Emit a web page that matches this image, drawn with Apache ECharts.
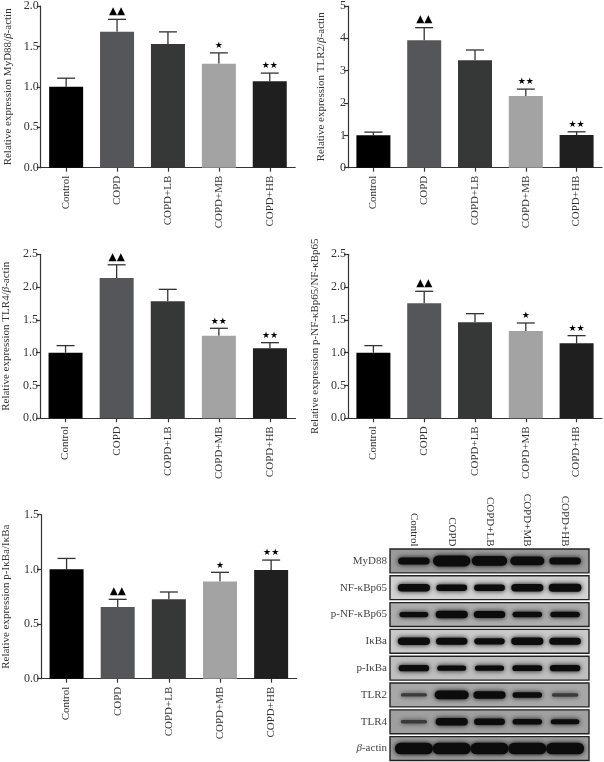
<!DOCTYPE html>
<html><head><meta charset="utf-8">
<style>html,body{margin:0;padding:0;background:#fff}#c{width:604px;height:762px}</style>
<script src="https://cdn.jsdelivr.net/npm/echarts@6/dist/echarts.min.js"></script>
</head><body><div id="c"></div>
<script>
const categories = ['Control','COPD','COPD+LB','COPD+MB','COPD+HB'];

const myd88Values = [1.00,1.68,1.53,1.285,1.07];
const myd88Upper  = [1.107,1.835,1.68,1.42,1.17];
const myd88Marks  = ['','▲▲','','★','★★'];

const tlr2Values = [1.00,3.94,3.32,2.22,1.01];
const tlr2Upper  = [1.10,4.33,3.64,2.43,1.11];
const tlr2Marks  = ['','▲▲','','★★','★★'];

const tlr4Values = [1.00,2.14,1.784,1.26,1.067];
const tlr4Upper  = [1.108,2.34,1.966,1.372,1.153];
const tlr4Marks  = ['','▲▲','','★★','★★'];

const pnfValues = [1.00,1.753,1.463,1.33,1.143];
const pnfUpper  = [1.108,1.936,1.595,1.453,1.26];
const pnfMarks  = ['','▲▲','','★','★★'];

const pikbValues = [1.00,0.655,0.726,0.89,0.994];
const pikbUpper  = [1.10,0.726,0.793,0.973,1.085];
const pikbMarks  = ['','▲▲','','★','★★'];

const blotRows = ['MyD88','NF-κBp65','p-NF-κBp65','IκBa','p-IκBa','TLR2','TLR4','{i|β}-actin'];
const blotMyd88 = [.5,.95,.8,.7,.5];
const blotNf    = [.55,.45,.45,.55,.6];
const blotPnf   = [.3,.55,.5,.35,.35];
const blotIkb   = [.55,.5,.42,.55,.5];
const blotPikb  = [.42,.3,.32,.38,.42];
const blotTlr2  = [.08,.7,.55,.35,.12];
const blotTlr4  = [.1,.55,.45,.35,.28];
const blotActin = [1,1,1,1,1];
const blotSignals = [blotMyd88,blotNf,blotPnf,blotIkb,blotPikb,blotTlr2,blotTlr4,blotActin];
const blotBackground = ['#9a9a9a','#d2d2d2','#adadad','#cacaca','#bfbfbf','#a8a8a8','#a0a0a0','#9c9c9c'];

const FONT = '"Liberation Serif"';
const INK = '#333';
const barColors = ['#000000','#55565a','#363838','#a3a3a3','#1f1f1f'];

const panels = [
  {l:40.7,t:5,w:254.5,h:162.7,max:2,step:.5,dec:1,name:'Relative expression MyD88/{i|β}-actin',gap:27,v:myd88Values,u:myd88Upper,m:myd88Marks},
  {l:348,t:4,w:254,h:163.7,max:5,step:1,dec:0,name:'Relative expression TLR2/{i|β}-actin',gap:21,v:tlr2Values,u:tlr2Upper,m:tlr2Marks},
  {l:40,t:254.3,w:255.5,h:164,max:2.5,step:.5,dec:1,name:'Relative expression TLR4/{i|β}-actin',gap:28,v:tlr4Values,u:tlr4Upper,m:tlr4Marks},
  {l:348,t:254.3,w:254,h:164,max:2.5,step:.5,dec:1,name:'Relative expression p-NF-κBp65/NF-κBp65',gap:27,v:pnfValues,u:pnfUpper,m:pnfMarks},
  {l:40.7,t:514.7,w:256,h:164,max:1.5,step:.5,dec:1,name:'Relative expression p-IκBa/IκBa',gap:29,v:pikbValues,u:pikbUpper,m:pikbMarks}
];

const grid=[],xAxis=[],yAxis=[],series=[];
const axisLine={show:true,lineStyle:{color:'#333',width:1.2}};

panels.forEach((p,k)=>{
  grid.push({left:p.l,top:p.t,width:p.w,height:p.h,containLabel:false});
  xAxis.push({gridIndex:k,type:'category',data:categories,axisLine:Object.assign({onZero:false},axisLine),
    axisTick:{show:true,alignWithLabel:true,length:4,lineStyle:{color:'#333',width:1.2}},
    axisLabel:{rotate:90,interval:0,margin:8,fontFamily:FONT,fontSize:11,color:INK}});
  yAxis.push({gridIndex:k,type:'value',min:0,max:p.max,interval:p.step,splitLine:{show:false},axisLine,
    axisTick:{show:true,length:4,lineStyle:{color:'#333',width:1.2}},
    axisLabel:{margin:2,fontFamily:FONT,fontSize:12,color:INK,formatter:v=>v.toFixed(p.dec)},
    name:p.name,nameLocation:'middle',nameGap:p.gap,nameMoveOverlap:false,
    nameTextStyle:{fontFamily:FONT,fontSize:11,color:INK,rich:{i:{fontFamily:FONT,fontSize:11,fontStyle:'italic',color:INK}}}});
  series.push({type:'bar',xAxisIndex:k,yAxisIndex:k,barWidth:34,silent:true,
    data:p.v.map((v,i)=>({value:v,itemStyle:{color:barColors[i]}}))});
  series.push({type:'custom',xAxisIndex:k,yAxisIndex:k,silent:true,clip:false,
    data:p.v.map((v,i)=>[i,v,p.u[i],p.m[i]]),
    encode:{x:0,y:[1,2]},
    renderItem(params,api){
      const i=api.value(0), a=api.coord([i,api.value(1)]), b=api.coord([i,api.value(2)]);
      const mark=p.m[i];
      const ls={stroke:'#333',lineWidth:1.3};
      const kids=[
        {type:'line',shape:{x1:a[0],y1:a[1],x2:b[0],y2:b[1]},style:ls},
        {type:'line',shape:{x1:a[0]-9,y1:b[1],x2:a[0]+9,y2:b[1]},style:ls}
      ];
      if(mark){
        kids.push({type:'text',style:{text:mark,x:a[0],y:b[1]-2.5,align:'center',verticalAlign:'bottom',
          font:(mark[0]==='▲'?'10.5px':'9px')+' "DejaVu Sans"',fill:'#000'}});
      }
      return {type:'group',children:kids};
    }});
});

// western-blot panel
const B=panels.length;
grid.push({left:395,top:547.5,width:189,height:215.2});
xAxis.push({gridIndex:B,type:'category',data:categories,position:'top',axisLine:{show:false},axisTick:{show:false},
  axisLabel:{rotate:90,interval:0,margin:1,fontFamily:FONT,fontSize:11,color:INK}});
yAxis.push({gridIndex:B,type:'category',inverse:true,data:blotRows,axisLine:{show:false},axisTick:{show:false},
  axisLabel:{interval:0,margin:8,fontFamily:FONT,fontSize:11,color:'#444',
    rich:{i:{fontFamily:FONT,fontSize:11,fontStyle:'italic',color:'#444'}}}});
series.push({type:'custom',xAxisIndex:B,yAxisIndex:B,silent:true,clip:false,z:2,
  data:blotRows.map((r,i)=>[0,i]),encode:{x:0,y:1},
  renderItem(params,api){
    const row=api.value(1), c=api.coord([0,row]), s=api.size([1,1]), cs=params.coordSys;
    const h=s[1]*0.89;
    return {type:'rect',shape:{x:cs.x-5,y:c[1]-h/2,width:cs.width+10,height:h},
      style:{fill:blotBackground[row],stroke:'#222',lineWidth:1.4}};
  }});
const blotData=[];
blotSignals.forEach((arr,r)=>arr.forEach((s,l)=>blotData.push([l,r,s])));
series.push({type:'custom',xAxisIndex:B,yAxisIndex:B,silent:true,clip:false,z:3,
  data:blotData,encode:{x:0,y:1},
  renderItem(params,api){
    const c=api.coord([api.value(0),api.value(1)]), s=api.value(2);
    const h=2.5+9*s, w=25+13*s;
    const col=s<.15?'#3a3a3a':'#0c0c0c';
    return {type:'rect',shape:{x:c[0]-w/2,y:c[1]-h/2,width:w,height:h,r:h/2},
      style:{fill:col,shadowBlur:5,shadowColor:col}};
  }});

const chart=echarts.init(document.getElementById('c'),null,{renderer:'canvas'});
chart.setOption({backgroundColor:'#fff',animation:false,grid,xAxis,yAxis,series});
</script></body></html>
